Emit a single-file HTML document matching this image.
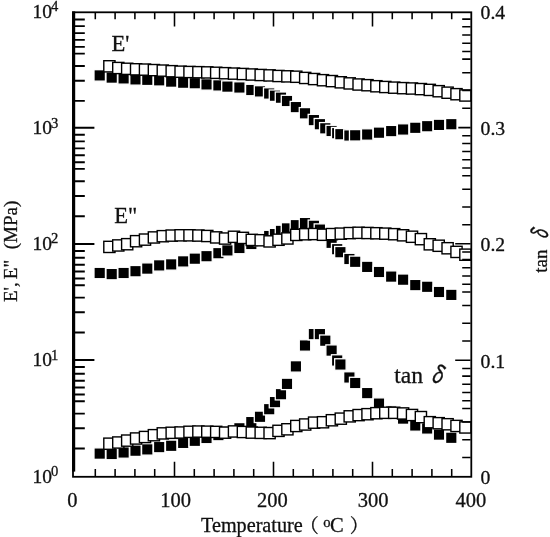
<!DOCTYPE html>
<html lang="en"><head><meta charset="utf-8"><title>DMA plot</title>
<style>
html,body{margin:0;padding:0;background:#fff;}
svg{display:block;}
text{font-family:"Liberation Serif","Noto Serif CJK SC",serif;fill:#111;stroke:#111;stroke-width:0.3px;}
.t{font-size:20.5px;}
.s{font-size:14.6px;}
.r{font-size:19px;}
.b{font-size:22.6px;}
.d{font-family:"IPAGothic","DejaVu Sans",sans-serif;font-style:italic;font-size:22px;}
</style></head><body>
<svg width="550" height="537" viewBox="0 0 550 537">
<rect width="550" height="537" fill="#fff"/>
<g fill="#000" stroke="#fff" stroke-width="1.3"><rect x="93.98" y="69.68" width="11.45" height="11.45"/><rect x="105.98" y="71.88" width="11.45" height="11.45"/><rect x="117.88" y="72.68" width="11.45" height="11.45"/><rect x="129.78" y="73.68" width="11.45" height="11.45"/><rect x="141.58" y="74.08" width="11.45" height="11.45"/><rect x="153.47" y="74.58" width="11.45" height="11.45"/><rect x="165.47" y="75.88" width="11.45" height="11.45"/><rect x="177.47" y="76.98" width="11.45" height="11.45"/><rect x="189.08" y="77.48" width="11.45" height="11.45"/><rect x="200.78" y="78.68" width="11.45" height="11.45"/><rect x="212.68" y="79.68" width="11.45" height="11.45"/><rect x="221.68" y="80.88" width="11.45" height="11.45"/><rect x="233.68" y="81.78" width="11.45" height="11.45"/><rect x="245.58" y="84.28" width="11.45" height="11.45"/><rect x="254.28" y="85.68" width="11.45" height="11.45"/><rect x="263.47" y="87.78" width="11.45" height="11.45"/><rect x="269.27" y="89.98" width="11.45" height="11.45"/><rect x="275.27" y="91.98" width="11.45" height="11.45"/><rect x="281.27" y="95.28" width="11.45" height="11.45"/><rect x="290.17" y="101.38" width="11.45" height="11.45"/><rect x="299.27" y="107.58" width="11.45" height="11.45"/><rect x="308.17" y="114.38" width="11.45" height="11.45"/><rect x="314.17" y="118.48" width="11.45" height="11.45"/><rect x="319.57" y="122.58" width="11.45" height="11.45"/><rect x="325.88" y="125.28" width="11.45" height="11.45"/><rect x="331.47" y="127.47" width="11.45" height="11.45"/><rect x="334.67" y="128.47" width="11.45" height="11.45"/><rect x="343.67" y="129.78" width="11.45" height="11.45"/><rect x="349.47" y="129.58" width="11.45" height="11.45"/><rect x="361.47" y="128.78" width="11.45" height="11.45"/><rect x="373.27" y="126.97" width="11.45" height="11.45"/><rect x="385.47" y="125.38" width="11.45" height="11.45"/><rect x="397.38" y="123.78" width="11.45" height="11.45"/><rect x="409.57" y="122.08" width="11.45" height="11.45"/><rect x="421.47" y="120.48" width="11.45" height="11.45"/><rect x="433.27" y="119.18" width="11.45" height="11.45"/><rect x="445.57" y="118.48" width="11.45" height="11.45"/>
<rect x="93.98" y="267.27" width="11.45" height="11.45"/><rect x="105.98" y="268.38" width="11.45" height="11.45"/><rect x="117.88" y="267.27" width="11.45" height="11.45"/><rect x="129.78" y="265.47" width="11.45" height="11.45"/><rect x="141.58" y="262.88" width="11.45" height="11.45"/><rect x="153.47" y="259.67" width="11.45" height="11.45"/><rect x="165.47" y="258.67" width="11.45" height="11.45"/><rect x="177.47" y="255.67" width="11.45" height="11.45"/><rect x="189.08" y="252.97" width="11.45" height="11.45"/><rect x="200.78" y="250.47" width="11.45" height="11.45"/><rect x="212.68" y="247.47" width="11.45" height="11.45"/><rect x="221.68" y="244.68" width="11.45" height="11.45"/><rect x="233.68" y="242.28" width="11.45" height="11.45"/><rect x="245.58" y="238.28" width="11.45" height="11.45"/><rect x="254.28" y="234.28" width="11.45" height="11.45"/><rect x="263.47" y="230.28" width="11.45" height="11.45"/><rect x="269.27" y="228.38" width="11.45" height="11.45"/><rect x="275.27" y="225.18" width="11.45" height="11.45"/><rect x="281.27" y="222.68" width="11.45" height="11.45"/><rect x="290.17" y="219.47" width="11.45" height="11.45"/><rect x="299.27" y="217.38" width="11.45" height="11.45"/><rect x="308.17" y="220.08" width="11.45" height="11.45"/><rect x="314.17" y="223.88" width="11.45" height="11.45"/><rect x="319.57" y="229.78" width="11.45" height="11.45"/><rect x="325.88" y="237.08" width="11.45" height="11.45"/><rect x="331.47" y="243.47" width="11.45" height="11.45"/><rect x="334.67" y="246.47" width="11.45" height="11.45"/><rect x="343.67" y="253.28" width="11.45" height="11.45"/><rect x="349.47" y="256.07" width="11.45" height="11.45"/><rect x="361.47" y="261.17" width="11.45" height="11.45"/><rect x="373.27" y="266.27" width="11.45" height="11.45"/><rect x="385.47" y="270.88" width="11.45" height="11.45"/><rect x="397.38" y="273.97" width="11.45" height="11.45"/><rect x="409.57" y="279.38" width="11.45" height="11.45"/><rect x="421.47" y="281.07" width="11.45" height="11.45"/><rect x="433.27" y="286.27" width="11.45" height="11.45"/><rect x="445.57" y="289.17" width="11.45" height="11.45"/>
<rect x="93.98" y="447.88" width="11.45" height="11.45"/><rect x="105.98" y="448.27" width="11.45" height="11.45"/><rect x="117.88" y="446.77" width="11.45" height="11.45"/><rect x="129.78" y="444.97" width="11.45" height="11.45"/><rect x="141.58" y="443.67" width="11.45" height="11.45"/><rect x="153.47" y="441.38" width="11.45" height="11.45"/><rect x="165.47" y="440.07" width="11.45" height="11.45"/><rect x="177.47" y="437.17" width="11.45" height="11.45"/><rect x="189.08" y="435.07" width="11.45" height="11.45"/><rect x="200.78" y="432.27" width="11.45" height="11.45"/><rect x="212.68" y="429.38" width="11.45" height="11.45"/><rect x="221.68" y="426.07" width="11.45" height="11.45"/><rect x="233.68" y="422.57" width="11.45" height="11.45"/><rect x="245.58" y="416.38" width="11.45" height="11.45"/><rect x="254.28" y="411.07" width="11.45" height="11.45"/><rect x="263.47" y="403.47" width="11.45" height="11.45"/><rect x="269.27" y="396.38" width="11.45" height="11.45"/><rect x="275.27" y="388.47" width="11.45" height="11.45"/><rect x="281.27" y="378.17" width="11.45" height="11.45"/><rect x="290.17" y="360.67" width="11.45" height="11.45"/><rect x="299.27" y="339.77" width="11.45" height="11.45"/><rect x="308.17" y="328.38" width="11.45" height="11.45"/><rect x="314.17" y="328.38" width="11.45" height="11.45"/><rect x="319.57" y="334.97" width="11.45" height="11.45"/><rect x="325.88" y="344.88" width="11.45" height="11.45"/><rect x="331.47" y="354.77" width="11.45" height="11.45"/><rect x="334.67" y="358.77" width="11.45" height="11.45"/><rect x="343.67" y="371.77" width="11.45" height="11.45"/><rect x="349.47" y="377.27" width="11.45" height="11.45"/><rect x="361.47" y="387.38" width="11.45" height="11.45"/><rect x="373.27" y="397.88" width="11.45" height="11.45"/><rect x="385.47" y="405.77" width="11.45" height="11.45"/><rect x="397.38" y="412.88" width="11.45" height="11.45"/><rect x="409.57" y="419.77" width="11.45" height="11.45"/><rect x="421.47" y="422.77" width="11.45" height="11.45"/><rect x="433.27" y="428.88" width="11.45" height="11.45"/><rect x="445.57" y="432.07" width="11.45" height="11.45"/>
</g>
<g fill="#fff" stroke="#000" stroke-width="1.4"><rect x="103.80" y="60.70" width="11.2" height="11.2"/><rect x="112.70" y="62.40" width="11.2" height="11.2"/><rect x="121.60" y="63.20" width="11.2" height="11.2"/><rect x="130.50" y="63.70" width="11.2" height="11.2"/><rect x="139.40" y="64.00" width="11.2" height="11.2"/><rect x="148.30" y="64.50" width="11.2" height="11.2"/><rect x="157.20" y="65.00" width="11.2" height="11.2"/><rect x="166.10" y="65.60" width="11.2" height="11.2"/><rect x="175.00" y="66.10" width="11.2" height="11.2"/><rect x="183.90" y="66.40" width="11.2" height="11.2"/><rect x="192.80" y="66.60" width="11.2" height="11.2"/><rect x="201.70" y="66.80" width="11.2" height="11.2"/><rect x="210.60" y="67.20" width="11.2" height="11.2"/><rect x="219.50" y="67.60" width="11.2" height="11.2"/><rect x="228.40" y="68.00" width="11.2" height="11.2"/><rect x="237.30" y="68.40" width="11.2" height="11.2"/><rect x="246.20" y="68.90" width="11.2" height="11.2"/><rect x="255.10" y="69.40" width="11.2" height="11.2"/><rect x="264.00" y="69.80" width="11.2" height="11.2"/><rect x="272.90" y="70.40" width="11.2" height="11.2"/><rect x="281.80" y="70.75" width="11.2" height="11.2"/><rect x="290.70" y="71.15" width="11.2" height="11.2"/><rect x="299.60" y="72.35" width="11.2" height="11.2"/><rect x="308.50" y="73.45" width="11.2" height="11.2"/><rect x="317.40" y="74.60" width="11.2" height="11.2"/><rect x="326.30" y="75.50" width="11.2" height="11.2"/><rect x="335.20" y="76.70" width="11.2" height="11.2"/><rect x="344.10" y="77.80" width="11.2" height="11.2"/><rect x="353.00" y="78.90" width="11.2" height="11.2"/><rect x="361.90" y="79.60" width="11.2" height="11.2"/><rect x="370.80" y="80.65" width="11.2" height="11.2"/><rect x="379.70" y="81.40" width="11.2" height="11.2"/><rect x="388.60" y="82.05" width="11.2" height="11.2"/><rect x="397.50" y="82.55" width="11.2" height="11.2"/><rect x="406.40" y="82.90" width="11.2" height="11.2"/><rect x="415.30" y="83.50" width="11.2" height="11.2"/><rect x="424.20" y="84.30" width="11.2" height="11.2"/><rect x="433.10" y="85.60" width="11.2" height="11.2"/><rect x="442.00" y="87.10" width="11.2" height="11.2"/><rect x="450.90" y="88.60" width="11.2" height="11.2"/><rect x="459.80" y="89.90" width="11.2" height="11.2"/>
<rect x="103.80" y="241.30" width="11.2" height="11.2"/><rect x="112.70" y="239.85" width="11.2" height="11.2"/><rect x="121.60" y="238.60" width="11.2" height="11.2"/><rect x="130.50" y="235.60" width="11.2" height="11.2"/><rect x="139.40" y="234.00" width="11.2" height="11.2"/><rect x="148.30" y="231.85" width="11.2" height="11.2"/><rect x="157.20" y="230.60" width="11.2" height="11.2"/><rect x="166.10" y="230.00" width="11.2" height="11.2"/><rect x="175.00" y="229.70" width="11.2" height="11.2"/><rect x="183.90" y="229.70" width="11.2" height="11.2"/><rect x="192.80" y="229.95" width="11.2" height="11.2"/><rect x="201.70" y="230.40" width="11.2" height="11.2"/><rect x="210.60" y="231.80" width="11.2" height="11.2"/><rect x="219.50" y="232.95" width="11.2" height="11.2"/><rect x="228.40" y="231.20" width="11.2" height="11.2"/><rect x="237.30" y="232.30" width="11.2" height="11.2"/><rect x="246.20" y="234.30" width="11.2" height="11.2"/><rect x="255.10" y="234.65" width="11.2" height="11.2"/><rect x="264.00" y="235.80" width="11.2" height="11.2"/><rect x="272.90" y="234.15" width="11.2" height="11.2"/><rect x="281.80" y="232.85" width="11.2" height="11.2"/><rect x="290.70" y="229.30" width="11.2" height="11.2"/><rect x="299.60" y="228.65" width="11.2" height="11.2"/><rect x="308.50" y="228.45" width="11.2" height="11.2"/><rect x="317.40" y="229.15" width="11.2" height="11.2"/><rect x="326.30" y="228.50" width="11.2" height="11.2"/><rect x="335.20" y="228.05" width="11.2" height="11.2"/><rect x="344.10" y="227.50" width="11.2" height="11.2"/><rect x="353.00" y="227.20" width="11.2" height="11.2"/><rect x="361.90" y="227.40" width="11.2" height="11.2"/><rect x="370.80" y="227.65" width="11.2" height="11.2"/><rect x="379.70" y="228.05" width="11.2" height="11.2"/><rect x="388.60" y="228.60" width="11.2" height="11.2"/><rect x="397.50" y="229.70" width="11.2" height="11.2"/><rect x="406.40" y="231.15" width="11.2" height="11.2"/><rect x="415.30" y="233.55" width="11.2" height="11.2"/><rect x="424.20" y="238.70" width="11.2" height="11.2"/><rect x="433.10" y="240.15" width="11.2" height="11.2"/><rect x="442.00" y="242.65" width="11.2" height="11.2"/><rect x="450.90" y="246.30" width="11.2" height="11.2"/><rect x="459.80" y="249.10" width="11.2" height="11.2"/>
<rect x="103.80" y="438.10" width="11.2" height="11.2"/><rect x="112.70" y="436.90" width="11.2" height="11.2"/><rect x="121.60" y="435.00" width="11.2" height="11.2"/><rect x="130.50" y="432.90" width="11.2" height="11.2"/><rect x="139.40" y="431.40" width="11.2" height="11.2"/><rect x="148.30" y="429.60" width="11.2" height="11.2"/><rect x="157.20" y="427.80" width="11.2" height="11.2"/><rect x="166.10" y="427.20" width="11.2" height="11.2"/><rect x="175.00" y="426.90" width="11.2" height="11.2"/><rect x="183.90" y="426.20" width="11.2" height="11.2"/><rect x="192.80" y="425.95" width="11.2" height="11.2"/><rect x="201.70" y="426.10" width="11.2" height="11.2"/><rect x="210.60" y="426.30" width="11.2" height="11.2"/><rect x="219.50" y="427.05" width="11.2" height="11.2"/><rect x="228.40" y="425.85" width="11.2" height="11.2"/><rect x="237.30" y="426.40" width="11.2" height="11.2"/><rect x="246.20" y="427.00" width="11.2" height="11.2"/><rect x="255.10" y="427.25" width="11.2" height="11.2"/><rect x="264.00" y="427.50" width="11.2" height="11.2"/><rect x="272.90" y="425.25" width="11.2" height="11.2"/><rect x="281.80" y="423.70" width="11.2" height="11.2"/><rect x="290.70" y="420.40" width="11.2" height="11.2"/><rect x="299.60" y="418.90" width="11.2" height="11.2"/><rect x="308.50" y="417.05" width="11.2" height="11.2"/><rect x="317.40" y="416.65" width="11.2" height="11.2"/><rect x="326.30" y="414.65" width="11.2" height="11.2"/><rect x="335.20" y="413.05" width="11.2" height="11.2"/><rect x="344.10" y="410.75" width="11.2" height="11.2"/><rect x="353.00" y="409.50" width="11.2" height="11.2"/><rect x="361.90" y="408.60" width="11.2" height="11.2"/><rect x="370.80" y="407.60" width="11.2" height="11.2"/><rect x="379.70" y="407.20" width="11.2" height="11.2"/><rect x="388.60" y="407.20" width="11.2" height="11.2"/><rect x="397.50" y="407.85" width="11.2" height="11.2"/><rect x="406.40" y="409.40" width="11.2" height="11.2"/><rect x="415.30" y="411.50" width="11.2" height="11.2"/><rect x="424.20" y="416.60" width="11.2" height="11.2"/><rect x="433.10" y="417.60" width="11.2" height="11.2"/><rect x="442.00" y="418.65" width="11.2" height="11.2"/><rect x="450.90" y="420.35" width="11.2" height="11.2"/><rect x="459.80" y="421.85" width="11.2" height="11.2"/>
</g>
<rect x="73.0" y="12.3" width="398.3" height="464.5" fill="none" stroke="#000" stroke-width="1.8"/>
<rect x="72.1" y="11.4" width="3.1" height="460.2" fill="#000"/>
<path d="M75 19.45H84.8M75 26.10H84.8M75 33.10H84.8M75 39.90H84.8M75 46.90H84.8M75 53.60H84.8M75 66.00H84.8M75 80.70H84.8M75 100.90H84.8M75 127.7H94.4M75 134.75H84.8M75 141.40H84.8M75 148.40H84.8M75 155.20H84.8M75 162.20H84.8M75 168.90H84.8M75 181.30H84.8M75 196.00H84.8M75 216.20H84.8M75 244.0H94.4M75 251.05H84.8M75 257.70H84.8M75 264.70H84.8M75 271.50H84.8M75 278.50H84.8M75 285.20H84.8M75 297.60H84.8M75 312.30H84.8M75 332.50H84.8M75 360.0H94.4M75 367.05H84.8M75 373.70H84.8M75 380.70H84.8M75 387.50H84.8M75 394.50H84.8M75 401.20H84.8M75 413.60H84.8M75 428.30H84.8M75 448.50H84.8" fill="none" stroke="#000" stroke-width="1.9"/>
<path d="M462.2 19.10H470.6M462.2 26.80H470.6M462.2 34.90H470.6M462.2 43.20H470.6M462.2 51.40H470.6M462.2 59.10H470.6M462.2 72.70H470.6M462.2 90.40H470.6M462.2 108.20H470.6M458.3 127.6H470.6M462.2 135.70H470.6M462.2 143.40H470.6M462.2 151.50H470.6M462.2 159.80H470.6M462.2 168.00H470.6M462.2 175.70H470.6M462.2 189.30H470.6M462.2 207.00H470.6M462.2 224.80H470.6M455.2 243.8H470.6M462.2 251.90H470.6M462.2 259.60H470.6M462.2 267.70H470.6M462.2 276.00H470.6M462.2 284.20H470.6M462.2 291.90H470.6M462.2 305.50H470.6M462.2 323.20H470.6M462.2 341.00H470.6M455.2 360.3H470.6M462.2 368.40H470.6M462.2 376.10H470.6M462.2 384.20H470.6M462.2 392.50H470.6M462.2 400.70H470.6M462.2 408.40H470.6M462.2 422.00H470.6M462.2 439.70H470.6M462.2 457.50H470.6M95.30 13V19.3M95.30 476V469M115.10 13V19.3M115.10 476V469M134.90 13V19.3M134.90 476V469M154.70 13V19.3M154.70 476V469M174.50 13V26.4M174.50 476V461.8M194.30 13V19.3M194.30 476V469M214.10 13V19.3M214.10 476V469M233.90 13V19.3M233.90 476V469M253.70 13V19.3M253.70 476V469M273.50 13V26.4M273.50 476V461.8M293.30 13V19.3M293.30 476V469M313.10 13V19.3M313.10 476V469M332.90 13V19.3M332.90 476V469M352.70 13V19.3M352.70 476V469M372.50 13V26.4M372.50 476V461.8M392.30 13V19.3M392.30 476V469M412.10 13V19.3M412.10 476V469M431.90 13V19.3M431.90 476V469M451.70 13V19.3M451.70 476V469" fill="none" stroke="#000" stroke-width="1.55"/>
<text class="t" x="32.5" y="17.8" style="font-size:19.5px">10</text><text class="s" x="51" y="11.4">4</text>
<text class="t" x="32.5" y="134.1" style="font-size:19.5px">10</text><text class="s" x="51" y="127.7">3</text>
<text class="t" x="32.5" y="249.6" style="font-size:19.5px">10</text><text class="s" x="51" y="243.2">2</text>
<text class="t" x="32.5" y="366.4" style="font-size:19.5px">10</text><text class="s" x="51" y="360.0">1</text>
<text class="t" x="32.5" y="482.5" style="font-size:19.5px">10</text><text class="s" x="51" y="476.1">0</text>
<text class="t" x="480.6" y="19.2" style="font-size:19.7px">0.4</text>
<text class="t" x="480.6" y="134.7" style="font-size:19.7px">0.3</text>
<text class="t" x="480.6" y="250.7" style="font-size:19.7px">0.2</text>
<text class="t" x="480.6" y="367.7" style="font-size:19.7px">0.1</text>
<text class="t" x="480.6" y="483.8" style="font-size:19.7px">0</text>
<text class="t" x="72.3" y="506.6" text-anchor="middle">0</text>
<text class="t" x="175.7" y="506.6" text-anchor="middle">100</text>
<text class="t" x="272.3" y="506.6" text-anchor="middle">200</text>
<text class="t" x="373.1" y="506.6" text-anchor="middle">300</text>
<text class="t" x="470.8" y="506.6" text-anchor="middle">400</text>
<text class="t" x="201" y="532" style="font-size:20.2px">Temperature</text>
<text class="t" x="299.8" y="533" style="font-size:19px">（</text>
<text class="s" x="323.2" y="527.2">o</text>
<text class="t" x="330.1" y="532">C</text>
<text class="t" x="349.8" y="533" style="font-size:19px">）</text>
<text class="r" transform="translate(16.7 302) rotate(-90)">E',</text>
<text class="r" transform="translate(16.7 279.2) rotate(-90)">E"</text>
<text class="r" transform="translate(16.7 249.3) rotate(-90)">(MPa)</text>
<text class="r" transform="translate(546.6 272.8) rotate(-90)">tan</text>
<text class="d" style="font-size:24.3px" transform="translate(548.9 242.9) rotate(-90) scale(0.725 1)">δ</text>
<text class="b" x="111.4" y="50.6">E'</text>
<text class="b" x="114.3" y="223.3">E"</text>
<text class="b" x="394.2" y="382.7" style="font-size:23.6px">tan</text>
<text class="d" style="font-size:25.4px" transform="translate(426.1 383.9) scale(0.86 1)">δ</text>
</svg>
</body></html>
